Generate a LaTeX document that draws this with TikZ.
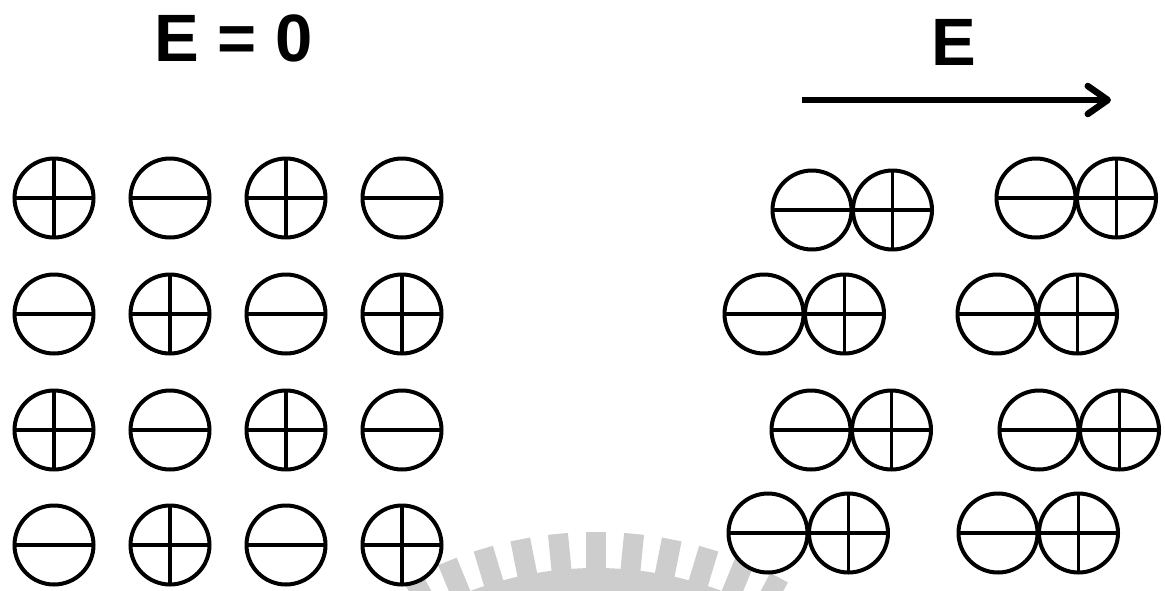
\documentclass[tikz,border=0pt]{standalone}
\usepackage{fontspec}
\setmainfont{Liberation Sans}
\usetikzlibrary{arrows.meta,positioning}
\definecolor{ink}{RGB}{0,0,0}
\definecolor{wmgray}{RGB}{205,205,205}
\tikzset{
  >={Straight Barb[length=20pt,width=28pt,line cap=round,line join=round]},
  ion/.style={circle,draw=ink,line width=4pt,fill=white,minimum size=79pt,inner sep=0pt},
  anion/.style={ion,path picture={
    \draw[ink,line width=3.5pt] (path picture bounding box.west) -- (path picture bounding box.east);
  }},
  cation/.style={ion,path picture={
    \draw[ink,line width=3.5pt] (path picture bounding box.west) -- (path picture bounding box.east)
      (path picture bounding box.north) -- (path picture bounding box.south);
  }},
  field/.style={font=\fontsize{67}{80}\selectfont\bfseries,text=ink,anchor=base,inner sep=0pt},
}

\begin{document}
\begin{tikzpicture}[x=1pt,y=-1pt]
    \useasboundingbox (0,0) rectangle (1165,590);
    % watermark
    \begin{scope}
      \clip (0,0) rectangle (1165,590);
      \fill[wmgray] (596,922) circle (354pt);
      \foreach \k in {-7,...,7} {
        \pgfmathsetmacro{\ang}{5.6*\k}
        \fill[wmgray,rotate around={\ang:(596,922)}] (586,580) rectangle (606,532);
      }
    \end{scope}
    % no field
    \node[field] (zero) at (233.5,61) {E = 0};
    \foreach \r [count=\j] in {198,314,430,545}
      \foreach \c [count=\i] in {54,170,286,402} {
        \pgfmathtruncatemacro{\p}{mod(\i+\j,2)}
        \ifnum\p=0 \def\kind{cation}\else\def\kind{anion}\fi
        \node[\kind] (q\j\i) at (\c,\r) {};
      }
    % applied field
    \node[field] (efield) at (954,65) {E};
    \coordinate (tail) at (802,100);
    \coordinate (tip) at (1111,100);
    \draw[->,ink,line width=6.5pt] (tail) -- (tip);
    \foreach \x/\y [count=\k] in {812/210,1036/198,764/314,997/314,811/430,1039/430,768/533,998/533} {
      \node[anion] (d\k) at (\x,\y) {};
      \node[cation,right=-2.5pt of d\k] (c\k) {};
    }
\end{tikzpicture}
\end{document}
